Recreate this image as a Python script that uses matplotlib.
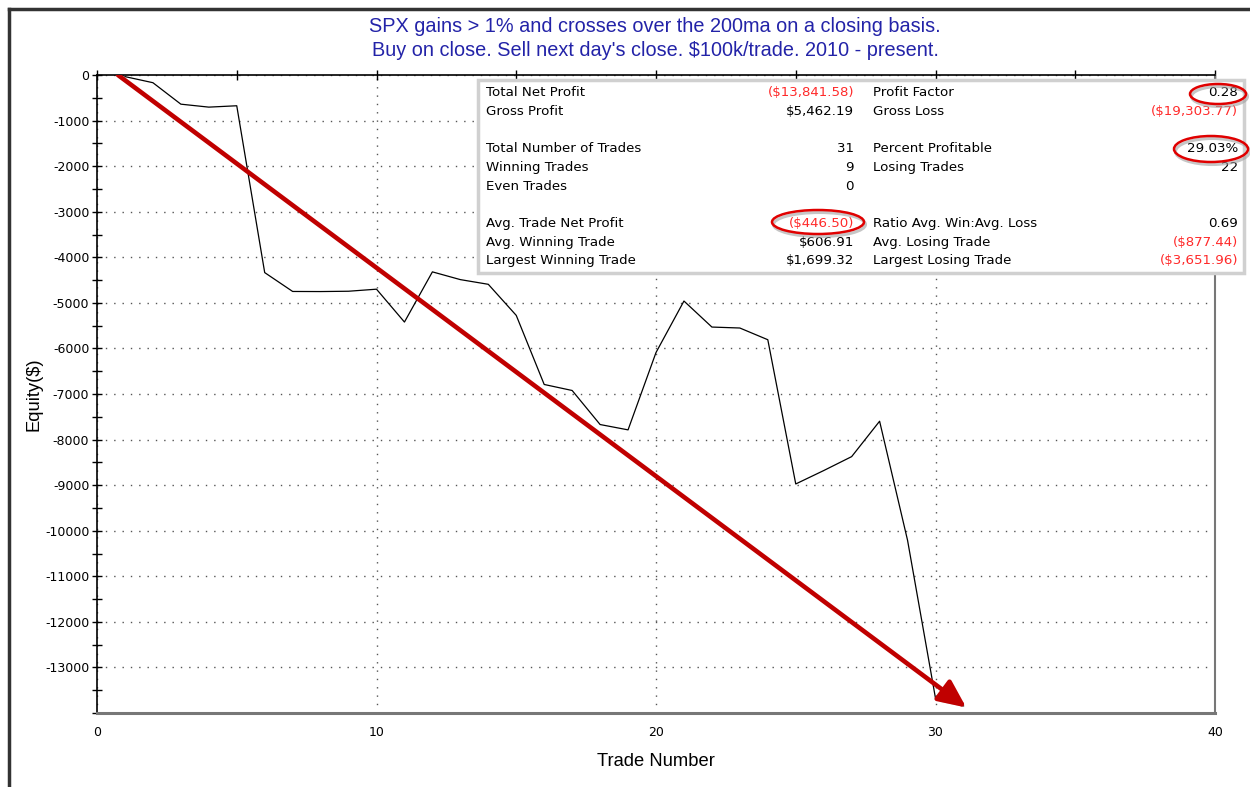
import matplotlib
matplotlib.use("Agg")
import matplotlib.pyplot as plt
import matplotlib.patheffects as pe
from matplotlib.patches import FancyArrowPatch, Ellipse, Rectangle
from matplotlib.lines import Line2D
from matplotlib.ticker import MultipleLocator

# equity curve, one point per trade
trade_numbers = list(range(1, 32))
equity = [-35, -169, -640, -705, -675, -4336, -4750, -4752, -4745, -4700,
          -5421, -4320, -4490, -4593, -5275, -6791, -6923, -7670, -7787, -6090,
          -4960, -5531, -5552, -5809, -8974, -8680, -8374, -7597, -10210, -13677,
          -13842]

title_lines = ["SPX gains > 1% and crosses over the 200ma on a closing basis.",
               "Buy on close. Sell next day's close. $100k/trade. 2010 - present."]

# performance summary table
left_labels = ["Total Net Profit", "Gross Profit", "", "Total Number of Trades",
               "Winning Trades", "Even Trades", "", "Avg. Trade Net Profit",
               "Avg. Winning Trade", "Largest Winning Trade"]
left_values = ["($13,841.58)", "$5,462.19", "", "31", "9", "0", "",
               "($446.50)", "$606.91", "$1,699.32"]
right_labels = ["Profit Factor", "Gross Loss", "", "Percent Profitable",
                "Losing Trades", "", "", "Ratio Avg. Win:Avg. Loss",
                "Avg. Losing Trade", "Largest Losing Trade"]
right_values = ["0.28", "($19,303.77)", "", "29.03%", "22", "", "",
                "0.69", "($877.44)", "($3,651.96)"]

W, H = 1250, 787
fig = plt.figure(figsize=(W / 100, H / 100), dpi=100)
fig.patch.set_facecolor("white")


def fx(px):
    return px / W


def fy(py):
    return 1 - py / H


ax = fig.add_axes([fx(97), fy(713), fx(1215) - fx(97), fy(75) - fy(713)])

ax.plot(trade_numbers, equity, color="black", lw=0.9, zorder=3)

ax.set_xlim(0, 40)
ax.set_ylim(-14000, 0)
ax.xaxis.set_major_locator(MultipleLocator(10))
ax.xaxis.set_minor_locator(MultipleLocator(5))
ax.yaxis.set_minor_locator(MultipleLocator(500))
ax.set_yticks(range(0, -14000, -1000))
ax.set_yticklabels([str(v) for v in range(0, -14000, -1000)])

ax.tick_params(axis="x", which="both", bottom=False, top=True, labelbottom=True,
               direction="inout", length=7, width=1, labelsize=9, pad=6)
ax.tick_params(axis="y", which="both", left=True, right=False,
               direction="inout", length=7, width=1, labelsize=9, pad=2)

ax.grid(True, which="major", color="#555555", linestyle=(0, (1, 5)), lw=1)

for side in ["left", "top"]:
    ax.spines[side].set_color("black")
    ax.spines[side].set_linewidth(1.2)
ax.spines["bottom"].set_color("#777777")
ax.spines["bottom"].set_linewidth(2.2)
ax.spines["right"].set_color("#777777")
ax.spines["right"].set_linewidth(1.5)

ax.set_xlabel("Trade Number", fontsize=13.2, family="Liberation Sans", labelpad=10)
ax.set_ylabel("Equity($)", fontsize=13.2, family="Liberation Sans", labelpad=2)

# big red trend arrow
arrow = FancyArrowPatch((0.75, 0), (31.1, -13880),
                        arrowstyle="-|>,head_length=1.2,head_width=0.55",
                        mutation_scale=14, color="#C00000", lw=3.3, zorder=4,
                        shrinkA=0, shrinkB=0)
arrow.set_path_effects([pe.SimplePatchShadow(offset=(2, -2), shadow_rgbFace="#888888",
                                             alpha=0.5), pe.Normal()])
ax.add_patch(arrow)

# title
fig.text(fx(655), fy(27), title_lines[0], ha="center", va="center",
         color="#2323A8", fontsize=14.3, family="Liberation Sans")
fig.text(fx(655), fy(50), title_lines[1], ha="center", va="center",
         color="#2323A8", fontsize=14.3, family="Liberation Sans")

# stats box
box = Rectangle((fx(478), fy(273)), fx(1244) - fx(478), fy(80) - fy(273),
                transform=fig.transFigure, facecolor="white",
                edgecolor="#D0D0D0", lw=2.5, zorder=5)
fig.patches.append(box)

font_kw = dict(fontsize=9.6, family="DejaVu Sans", va="center", zorder=6)
for i in range(len(left_labels)):
    y = fy(93 + 18.65 * i)
    if left_labels[i]:
        fig.text(fx(486), y, left_labels[i], ha="left", color="black", **font_kw)
    if left_values[i]:
        c = "#FF2A2A" if left_values[i].startswith("(") else "black"
        fig.text(fx(854), y, left_values[i], ha="right", color=c, **font_kw)
    if right_labels[i]:
        fig.text(fx(873), y, right_labels[i], ha="left", color="black", **font_kw)
    if right_values[i]:
        c = "#FF2A2A" if right_values[i].startswith("(") else "black"
        fig.text(fx(1238), y, right_values[i], ha="right", color=c, **font_kw)

# red highlight ellipses, each with a soft grey shadow ring
for cx, cy, w, h in [(1218, 94, 56, 20), (1211, 149, 74, 26), (818, 222, 92, 24)]:
    shadow = Ellipse((fx(cx + 1.5), fy(cy + 2.5)), fx(w), h / H, transform=fig.transFigure,
                     facecolor="none", edgecolor="#A0A0A0", lw=2.2, alpha=0.6, zorder=7)
    fig.patches.append(shadow)
    e = Ellipse((fx(cx), fy(cy)), fx(w), h / H, transform=fig.transFigure,
                facecolor="none", edgecolor="#E00000", lw=1.8, zorder=8)
    fig.patches.append(e)

# window border of the screenshot
fig.lines.append(Line2D([fx(9), fx(9)], [fy(9), 0], transform=fig.transFigure,
                        color="#333333", lw=2.5))
fig.lines.append(Line2D([fx(9), 1], [fy(9), fy(9)], transform=fig.transFigure,
                        color="#333333", lw=2.5))

fig.savefig("out.png", dpi=100)
